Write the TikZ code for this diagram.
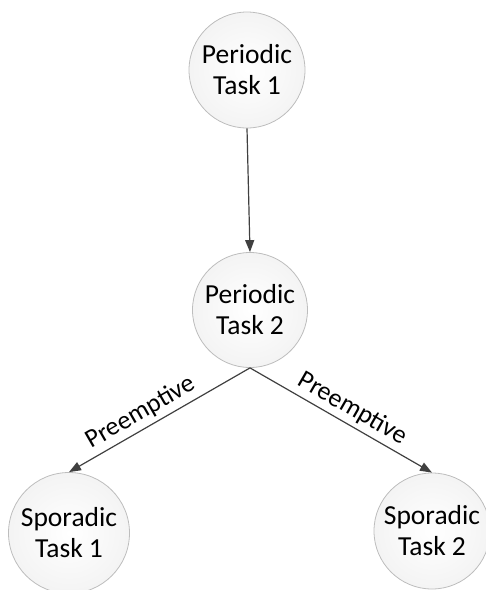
\documentclass[tikz,border=0pt]{standalone}
\usepackage{fontspec}
\setmainfont{Carlito}
\usetikzlibrary{arrows.meta}
\definecolor{rimgray}{HTML}{BDBDBD}
\definecolor{linegray}{HTML}{404040}
% soft white-to-grey ball fill for the task circles
\pgfdeclareradialshading{taskball}{\pgfpoint{0bp}{0bp}}{%
  color(0bp)=(white);
  color(28bp)=(white!95!black);
  color(50bp)=(white!86!black);
  color(70bp)=(white!86!black)}
\tikzset{
  task/.style={circle, draw=rimgray, line width=0.8pt, inner sep=0pt,
    shading=taskball,
    align=center, font=\fontsize{27.5}{31}\selectfont},
  link/.style={draw=linegray, line width=1.2pt,
    -{Triangle[length=12pt,width=9pt]}},
  edgelabel/.style={sloped, above, inner sep=4pt,
    font=\fontsize{26}{30}\selectfont}
}
\begin{document}
\begin{tikzpicture}[x=1pt,y=-1pt]
  \useasboundingbox (0,0) rectangle (486,590);
  % task nodes
  \node[task, minimum size=116pt] (p1) at (247,70) {Periodic\\Task 1};
  \node[task, minimum size=115pt] (p2) at (250,310) {Periodic\\Task 2};
  \node[task, minimum size=121pt] (s1) at (69,533) {Sporadic\\Task 1};
  \node[task, minimum size=116pt] (s2) at (432,531) {Sporadic\\Task 2};
  % connectors
  \draw[link] (p1.south) -- (p2.north);
  \draw[link] (p2.south) -- node[edgelabel, pos=0.56] {Preemptive} (s1.north);
  \draw[link] (p2.south) -- node[edgelabel, pos=0.52] {Preemptive} (s2.north);
\end{tikzpicture}
\end{document}
